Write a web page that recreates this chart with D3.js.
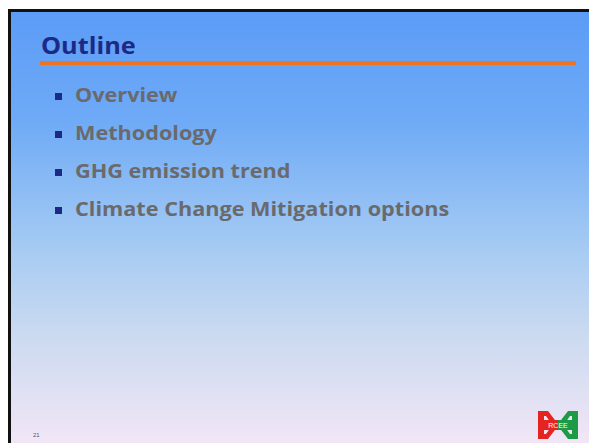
<!DOCTYPE html>
<html>
<head>
<meta charset="utf-8">
<script src="https://cdn.jsdelivr.net/npm/d3@7"></script>
<style>
  html, body { margin: 0; padding: 0; background: #fff; }
  svg { display: block; }
</style>
</head>
<body>
<svg id="slide"></svg>
<script>
const title = "Outline";
const items = ["Overview", "Methodology", "GHG emission trend", "Climate Change Mitigation options"];
const pageNumber = "21";
const logoText = "RCEE";

const W = 589, H = 443;
const svg = d3.select("#slide").attr("width", W).attr("height", H);

const defs = svg.append("defs");
const grad = defs.append("linearGradient")
  .attr("id", "bg").attr("x1", 0).attr("y1", 0).attr("x2", 0).attr("y2", 1);
[["0%", "#5c9cf6"], ["25%", "#6eaaf6"], ["55%", "#a6cbf3"], ["75%", "#cbdaf0"], ["100%", "#f1e6f6"]]
  .forEach(([o, c]) => grad.append("stop").attr("offset", o).attr("stop-color", c));

// slide frame
svg.append("rect").attr("x", 11).attr("y", 12).attr("width", W - 11).attr("height", H - 12)
  .attr("fill", "url(#bg)");
svg.append("rect").attr("x", 8).attr("y", 9).attr("width", 3).attr("height", H - 9).attr("fill", "#111");
svg.append("rect").attr("x", 8).attr("y", 9).attr("width", W - 8).attr("height", 3).attr("fill", "#111");

// the slide text is a bit wider than Open Sans, so stretch it horizontally
svg.append("text")
  .attr("transform", "translate(41,54) scale(1.1,1)")
  .attr("font-family", "'Open Sans', sans-serif")
  .attr("font-weight", "bold")
  .attr("font-size", 23)
  .attr("fill", "#1c2a86")
  .text(title);

svg.append("rect").attr("x", 40).attr("y", 61).attr("width", 536).attr("height", 4).attr("fill", "#f07322");

const y = d3.scalePoint().domain(items).range([102, 216]);

const g = svg.selectAll(".item").data(items).enter().append("g").attr("class", "item")
  .attr("transform", d => `translate(0,${y(d)})`);
g.append("rect").attr("x", 55).attr("y", -9).attr("width", 7).attr("height", 7).attr("fill", "#1c2a86");
g.append("text")
  .attr("transform", "translate(75,0) scale(1.14,1)")
  .attr("font-family", "'Open Sans', sans-serif")
  .attr("font-weight", "bold")
  .attr("font-size", 19)
  .attr("fill", "#6a6a6c")
  .text(d => d);

svg.append("text").attr("x", 33).attr("y", 437)
  .attr("font-family", "Arial, sans-serif").attr("font-size", 6).attr("fill", "#555")
  .text(pageNumber);

// logo
const logo = svg.append("g").attr("transform", "translate(538,411)");
logo.append("path").attr("d", "M0,0 H10 Q16,8 21,14 Q16,20 10,28 H0 V23 H8 Q11,19 14,14 Q11,9 8,5 H0 Z").attr("fill", "#e52421");
logo.append("rect").attr("x", 0).attr("y", 0).attr("width", 6).attr("height", 28).attr("fill", "#e52421");
logo.append("path").attr("d", "M40,0 H30 Q24,8 19,14 Q24,20 30,28 H40 V23 H32 Q29,19 26,14 Q29,9 32,5 H40 Z").attr("fill", "#1d9a45");
logo.append("rect").attr("x", 34).attr("y", 0).attr("width", 6).attr("height", 28).attr("fill", "#1d9a45");
logo.append("rect").attr("x", 0).attr("y", 9).attr("width", 40).attr("height", 10).attr("fill", "#e52421");
logo.append("rect").attr("x", 20).attr("y", 9).attr("width", 20).attr("height", 10).attr("fill", "#1d9a45");
logo.append("text").attr("x", 20).attr("y", 17).attr("text-anchor", "middle")
  .attr("font-family", "Arial, sans-serif").attr("font-size", 7).attr("fill", "#fff")
  .text(logoText);
</script>
</body>
</html>
